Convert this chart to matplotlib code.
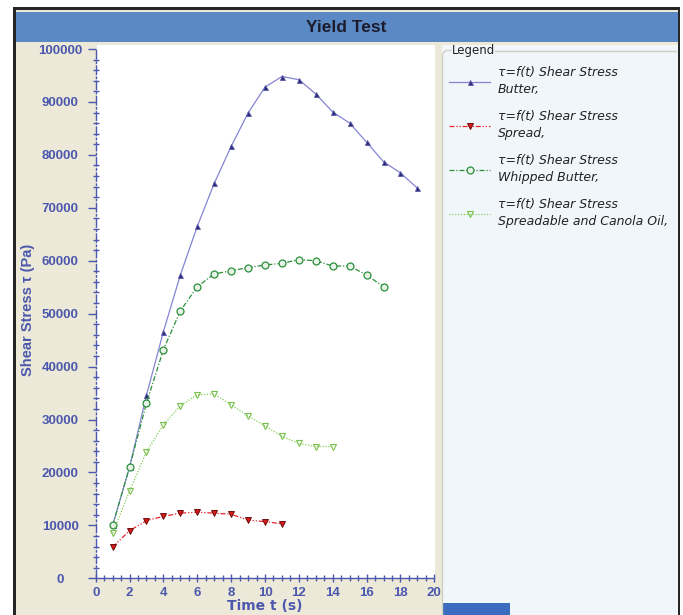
import matplotlib
matplotlib.use("Agg")
import matplotlib.pyplot as plt
from matplotlib.patches import Rectangle
from matplotlib.lines import Line2D
from matplotlib.font_manager import FontProperties

# ---------------- data ----------------
t_butter = [1, 2, 3, 4, 5, 6, 7, 8, 9, 10, 11, 12, 13, 14, 15, 16, 17, 18, 19]
butter = [10000, 21000, 34600, 46600, 57300, 66500, 74600, 81600, 87900, 92800,
          94800, 94200, 91500, 88100, 86000, 82400, 78700, 76600, 73700]

t_spread = [1, 2, 3, 4, 5, 6, 7, 8, 9, 10, 11]
spread = [5900, 9000, 10900, 11700, 12300, 12500, 12300, 12100, 11000, 10700, 10300]

t_whipped = [1, 2, 3, 4, 5, 6, 7, 8, 9, 10, 11, 12, 13, 14, 15, 16, 17]
whipped = [10000, 21000, 33100, 43200, 50500, 55100, 57500, 58100, 58700, 59200,
           59500, 60200, 60000, 59000, 59000, 57300, 55100]

t_canola = [1, 2, 3, 4, 5, 6, 7, 8, 9, 10, 11, 12, 13, 14]
canola = [8500, 16500, 23900, 29000, 32600, 34700, 34800, 32800, 30700, 28800,
          26800, 25500, 24900, 24900]

series_labels = [
    "τ=f(t) Shear Stress\nButter,",
    "τ=f(t) Shear Stress\nSpread,",
    "τ=f(t) Shear Stress\nWhipped Butter,",
    "τ=f(t) Shear Stress\nSpreadable and Canola Oil,",
]
title = "Yield Test"
xlabel = "Time t (s)"
ylabel = "Shear Stress τ (Pa)"
legend_title = "Legend"
x_ticks = list(range(0, 21, 2))
y_ticks = list(range(0, 100001, 10000))

# ---------------- figure ----------------
W, H = 683, 615
fig = plt.figure(figsize=(W / 100, H / 100), dpi=100)
fig.patch.set_facecolor("white")


def fx(x):
    return x / W


def fy(y):
    return 1 - y / H


def rect(x0, y0, x1, y1, color, z=-10):
    r = Rectangle((fx(x0), fy(y1)), fx(x1) - fx(x0), fy(y0) - fy(y1),
                  transform=fig.transFigure, facecolor=color, edgecolor="none",
                  zorder=z)
    fig.add_artist(r)


BEIGE = "#ece9d8"
BAR = "#5b89c6"
PANEL = "#f1f6fb"
AXC = "#4b58ad"

rect(13, 7, 680, 615, BEIGE)               # window background
rect(13, 7, 680, 10, "#262626")            # top dark border
rect(13, 7, 16, 615, "#262626")            # left dark border
rect(678, 7, 680, 615, "#262626")          # right dark border
rect(16, 12, 678, 42, BAR)                 # title bar
rect(97, 45, 435, 578, "white")            # plot area
rect(442, 45, 678, 615, PANEL)             # legend panel
rect(442, 603, 510, 615, "#3c6cc0")        # bottom tab

fig.text(fx(346), fy(27), title, ha="center", va="center",
         fontsize=12.5, fontweight="bold", color="#1c1c2c",
         family=["Liberation Sans", "DejaVu Sans"])

# groupbox of the legend
gb = "#cfcfbf"
fig.add_artist(Line2D([fx(442.5), fx(442.5), fx(446), fx(451)],
                      [fy(615), fy(54), fy(50.5), fy(50.5)],
                      transform=fig.transFigure, color=gb, lw=1, zorder=-5))
fig.add_artist(Line2D([fx(495), fx(676)], [fy(50.5), fy(50.5)],
                      transform=fig.transFigure, color=gb, lw=1, zorder=-5))
fig.text(fx(452), fy(50.5), legend_title, ha="left", va="center",
         fontsize=8.5, color="#222222", family=["DejaVu Sans"])

# ---------------- axes ----------------
ax = fig.add_axes([fx(95.7), fy(578.3), (434.3 - 95.7) / W, (578.3 - 49) / H])
ax.set_zorder(5)
ax.set_facecolor("none")

l1, = ax.plot(t_butter, butter, color="#8585d2", lw=0.9, ls="-",
              marker="^", ms=3.6, mfc="#2b2b7a", mec="#5a5aa8", mew=0.6)
l2, = ax.plot(t_spread, spread, color="#e8262a", lw=0.9, ls=(0, (4, 1.5, 1, 1.5, 1, 1.5)),
              marker="v", ms=5, mfc="#d81a1a", mec="#5a0000", mew=0.6)
l3, = ax.plot(t_whipped, whipped, color="#2b8f3b", lw=0.9, ls=(0, (4, 1.5, 1, 1.5)),
              marker="o", ms=5, mfc="#e6f3e6", mec="#2b8f3b", mew=0.9)
l4, = ax.plot(t_canola, canola, color="#86cf5a", lw=0.9, ls=(0, (1, 1.3)),
              marker="v", ms=5, mfc="none", mec="#78c04c", mew=0.8)

ax.set_xlim(0, 20)
ax.set_ylim(0, 100000)
ax.set_xticks(x_ticks)
ax.set_xticklabels([str(v) for v in x_ticks])
ax.set_yticks(y_ticks)
ax.set_yticklabels([str(v) for v in y_ticks])
ax.set_xticks([v / 2 for v in range(0, 41)], minor=True)
ax.set_yticks(list(range(0, 100001, 2000)), minor=True)

for s in ("top", "right"):
    ax.spines[s].set_visible(False)
ax.spines["left"].set_color(AXC)
ax.spines["bottom"].set_color(AXC)
ax.spines["left"].set_linewidth(1.0)
ax.spines["bottom"].set_linewidth(1.0)
ax.spines["left"].set_linestyle((0, (6, 2, 1, 2)))

ax.tick_params(axis="y", which="major", direction="out", length=5.5, width=1,
               color=AXC, labelcolor=AXC, labelsize=9.5, pad=20)
ax.tick_params(axis="y", which="minor", direction="inout", length=4, width=1, color=AXC)
ax.tick_params(axis="x", which="major", direction="inout", length=6, width=1,
               color=AXC, labelcolor=AXC, labelsize=9.5, pad=3)
ax.tick_params(axis="x", which="minor", direction="inout", length=4, width=1, color=AXC)

tickfont = FontProperties(family=["Liberation Sans", "DejaVu Sans"], weight="bold", size=9.5)
for lab in ax.get_yticklabels():
    lab.set_fontproperties(tickfont)
    lab.set_horizontalalignment("center")
for lab in ax.get_xticklabels():
    lab.set_fontproperties(tickfont)

ax.set_xlabel(xlabel, fontsize=10, fontweight="bold", color=AXC,
              family=["DejaVu Sans"])
ax.xaxis.set_label_coords(0.5, -0.04)
ax.set_ylabel(ylabel, fontsize=10.5, fontweight="bold", color=AXC,
              family=["Liberation Sans", "DejaVu Sans"])
ax.yaxis.label.set_verticalalignment("center")
ax.yaxis.set_label_coords(-0.2, 0.507)

leg = ax.legend([l1, l2, l3, l4], series_labels, loc="upper left",
                bbox_to_anchor=(fx(449), fy(66)), bbox_transform=fig.transFigure,
                frameon=False, borderpad=0, borderaxespad=0,
                handlelength=3.3, handletextpad=0.6, labelspacing=1.07,
                prop=FontProperties(family=["DejaVu Sans"], style="oblique", size=9))
for t in leg.get_texts():
    t.set_color("#222222")
    t.set_linespacing(1.45)

fig.savefig("out.png", dpi=100)
